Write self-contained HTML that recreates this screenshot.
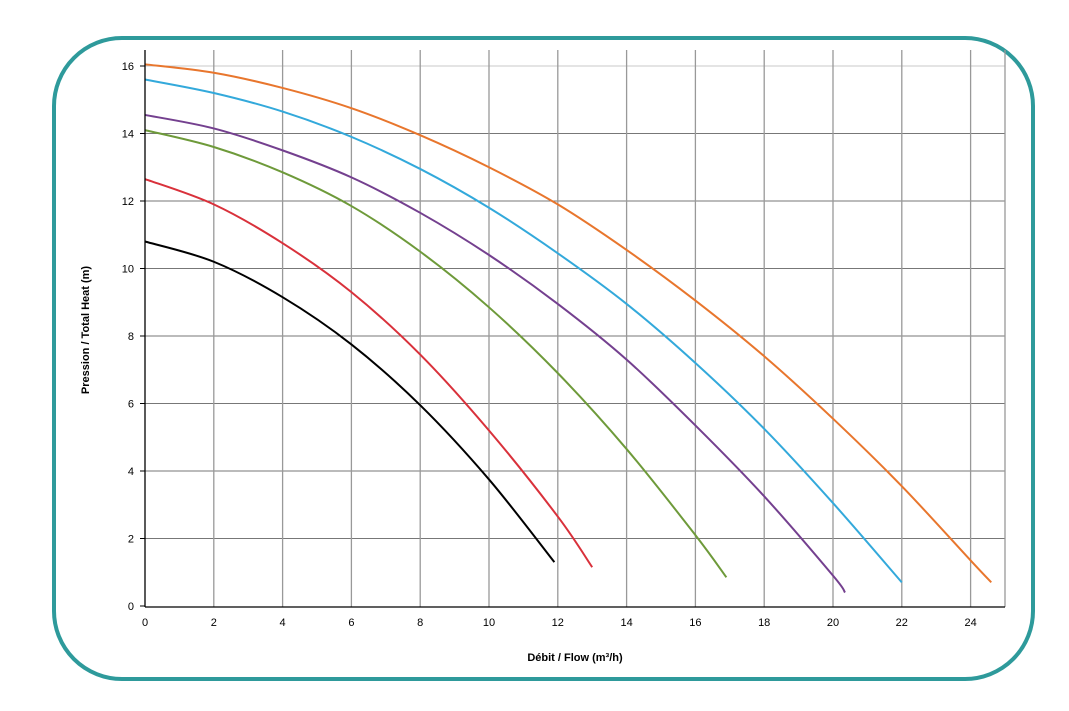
<!DOCTYPE html>
<html><head><meta charset="utf-8"><style>
body{margin:0;background:#fff;}
svg{display:block;font-family:"Liberation Sans",sans-serif;}
</style></head><body>
<svg id="c" width="1069" height="711">
<rect x="54" y="38" width="979" height="641" rx="68" ry="68" fill="none" stroke="#2e9a9b" stroke-width="4"/>
<g id="grid"></g><g id="series"></g><g id="axes"></g>
<text x="89" y="330" transform="rotate(-90 89 330)" text-anchor="middle" font-size="11" font-weight="bold">Pression / Total Heat (m)</text>
<text x="575" y="661" text-anchor="middle" font-size="11" font-weight="bold">Débit / Flow (m³/h)</text>
</svg>
<script>
const xTicks=[0,2,4,6,8,10,12,14,16,18,20,22,24];
const yTicks=[0,2,4,6,8,10,12,14,16];
const colors=['#e8762d','#33a9db','#74408f','#6e9a3a','#d9313b','#000000'];
const s1x=[0,2,4,6,8,10,12,14,16,18,20,22,24,24.6];
const s1y=[16.05,15.8,15.35,14.75,13.95,13.0,11.9,10.55,9.05,7.4,5.55,3.55,1.35,0.7];
const s2x=[0,2,4,6,8,10,12,14,16,18,20,22];
const s2y=[15.6,15.2,14.65,13.9,12.95,11.8,10.45,8.95,7.2,5.25,3.05,0.7];
const s3x=[0,2,4,6,8,10,12,14,16,18,20,20.35];
const s3y=[14.55,14.15,13.5,12.7,11.65,10.4,8.95,7.3,5.35,3.25,0.9,0.4];
const s4x=[0,2,4,6,8,10,12,14,16,16.9];
const s4y=[14.1,13.6,12.85,11.85,10.5,8.85,6.9,4.65,2.1,0.85];
const s5x=[0,2,4,6,8,10,12,13];
const s5y=[12.65,11.9,10.75,9.3,7.45,5.2,2.65,1.15];
const s6x=[0,2,4,6,8,10,11.9];
const s6y=[10.8,10.2,9.15,7.75,5.95,3.75,1.3];
const X0=145,XS=34.4,Y0=606,YS=33.75,L=145,R=1005,T=50,B=607;
const sx=v=>X0+v*XS, sy=v=>Y0-v*YS;
const NS='http://www.w3.org/2000/svg';
function mk(t,a,p){const e=document.createElementNS(NS,t);for(const k in a)e.setAttribute(k,a[k]);p.appendChild(e);return e;}
const g=document.getElementById('grid'),ax=document.getElementById('axes'),sg=document.getElementById('series');
yTicks.forEach(v=>{if(v===0)return;const l=mk('line',{x1:L,x2:R,y1:sy(v),y2:sy(v),stroke:v===16?'#c8c8c8':'#777','stroke-width':1},g);

});
xTicks.forEach(v=>{if(v===0)return;const l=mk('line',{x1:sx(v),x2:sx(v),y1:T,y2:B,stroke:'#999','stroke-width':1.3},g);

});
const rl=mk('line',{x1:R,x2:R,y1:T,y2:B,stroke:'#999','stroke-width':1.3},g);


const xa=mk('line',{x1:L,x2:R,y1:B,y2:B,stroke:'#000','stroke-width':1.3},ax);


const ya=mk('line',{x1:L,x2:L,y1:T,y2:B,stroke:'#000','stroke-width':1.3},ax);


xTicks.forEach(v=>{const t=mk('text',{x:sx(v),y:626,'text-anchor':'middle','font-size':11},ax);t.textContent=v;

});
yTicks.forEach(v=>{const t=mk('text',{x:134,y:sy(v)+4,'text-anchor':'end','font-size':11},ax);t.textContent=v;


const tk=mk('line',{x1:140,x2:L,y1:sy(v),y2:sy(v),stroke:'#000'},ax);

});
function path(xs,ys){const p=xs.map((x,i)=>[sx(x),sy(ys[i])]);let d='M'+p[0][0]+','+p[0][1];
for(let i=0;i<p.length-1;i++){const p0=p[i-1]||p[i],p1=p[i],p2=p[i+1],p3=p[i+2]||p2;
d+=' C'+(p1[0]+(p2[0]-p0[0])/6)+','+(p1[1]+(p2[1]-p0[1])/6)+' '+(p2[0]-(p3[0]-p1[0])/6)+','+(p2[1]-(p3[1]-p1[1])/6)+' '+p2[0]+','+p2[1];}return d;}
[[s1x,s1y],[s2x,s2y],[s3x,s3y],[s4x,s4y],[s5x,s5y],[s6x,s6y]].forEach((s,i)=>{
const e=mk('path',{d:path(s[0],s[1]),fill:'none',stroke:colors[i],'stroke-width':2},sg);

});
</script>
</body></html>
